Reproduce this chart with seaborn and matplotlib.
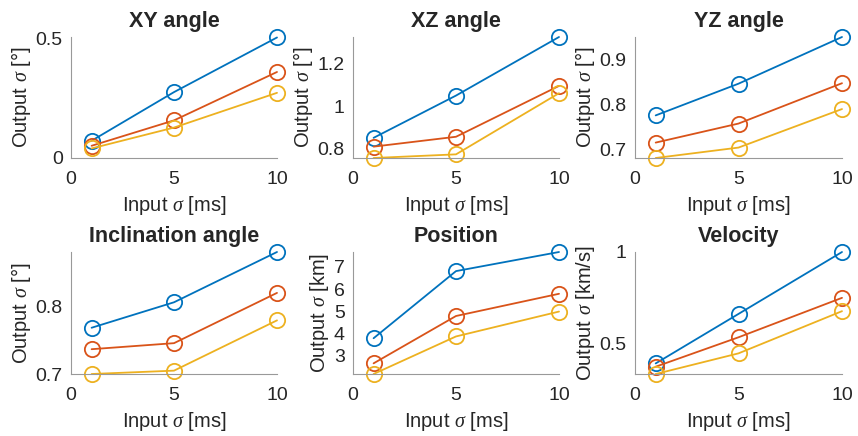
# sensitivity of output sigma to input timing sigma

import pandas as pd
import seaborn as sns
from matplotlib import pyplot as plt
from matplotlib.ticker import FixedLocator, FixedFormatter

input_sigma = [1, 5, 10]
series_names = ['a', 'b', 'c']

xy_angle = [[0.072, 0.275, 0.503], [0.051, 0.157, 0.359], [0.040, 0.127, 0.272]]
xz_angle = [[0.852, 1.049, 1.322], [0.811, 0.857, 1.094], [0.758, 0.775, 1.060]]
yz_angle = [[0.776, 0.846, 0.949], [0.716, 0.758, 0.847], [0.682, 0.705, 0.790]]
incl_angle = [[0.769, 0.807, 0.882], [0.737, 0.746, 0.821], [0.700, 0.705, 0.780]]
position = [[3.79, 6.81, 7.67], [2.66, 4.79, 5.79], [2.18, 3.87, 4.99]]
velocity = [[0.390, 0.661, 1.000], [0.372, 0.533, 0.749], [0.332, 0.445, 0.676]]

titles = ['XY angle', 'XZ angle', 'YZ angle', 'Inclination angle', 'Position', 'Velocity']
units = ['°', '°', '°', '°', 'km', 'km/s']
y_ticks = [[0, 0.5], [0.8, 1, 1.2], [0.7, 0.8, 0.9], [0.7, 0.8], [3, 4, 5, 6, 7], [0.5, 1]]
y_tick_labels = [['0', '0.5'], ['0.8', '1', '1.2'], ['0.7', '0.8', '0.9'], ['0.7', '0.8'],
                 ['3', '4', '5', '6', '7'], ['0.5', '1']]
y_limits = [(0, 0.505), (0.758, 1.322), (0.682, 0.949), (0.700, 0.882), (2.18, 7.67), (0.332, 1.0)]

colors = ['#0072BD', '#D95319', '#EDB120']

sns.set_style('white')
plt.rcParams['font.family'] = ['Liberation Sans', 'DejaVu Sans']
plt.rcParams['mathtext.fontset'] = 'custom'
plt.rcParams['mathtext.it'] = 'Liberation Serif:italic'
plt.rcParams['mathtext.rm'] = 'Liberation Sans'

fig = plt.figure(figsize=(8.58, 4.36), dpi=100)

# axes boxes in pixels: left, top, right, bottom
W, H = 858, 436
cols = [(71, 277), (353, 559), (635, 842)]
rows = [(37, 158), (252, 374)]

all_data = [xy_angle, xz_angle, yz_angle, incl_angle, position, velocity]

for i, data in enumerate(all_data):
    r, c = divmod(i, 3)
    l, rt = cols[c]
    t, b = rows[r]
    ax = fig.add_axes([l / W, 1 - b / H, (rt - l) / W, (b - t) / H])

    df = pd.DataFrame({
        'x': input_sigma * 3,
        'y': [v for s in data for v in s],
        'series': [n for n in series_names for _ in input_sigma],
    })
    sns.lineplot(data=df, x='x', y='y', hue='series', palette=colors, marker='o',
                 markersize=11, markerfacecolor='none', markeredgewidth=1.3,
                 linewidth=1.3, legend=False, ax=ax, clip_on=False)
    for ln in ax.lines:
        ln.set_markeredgecolor(ln.get_color())

    ax.set_xlim(0, 10)
    ax.set_ylim(*y_limits[i])
    ax.set_xticks([0, 5, 10])
    ax.set_xticklabels(['0', '5', '10'])
    ax.yaxis.set_major_locator(FixedLocator(y_ticks[i]))
    ax.yaxis.set_major_formatter(FixedFormatter(y_tick_labels[i]))
    ax.tick_params(labelsize=14, colors='#262626', direction='in', length=3,
                   width=0.7)
    ax.tick_params(axis='x', pad=9)
    ax.tick_params(axis='y', pad=6)
    for side in ['top', 'right']:
        ax.spines[side].set_visible(False)
    for side in ['left', 'bottom']:
        ax.spines[side].set_color('#999999')
        ax.spines[side].set_linewidth(0.8)

    ax.set_xlabel('Input $\\sigma$ [ms]', fontsize=14.5, color='#262626', labelpad=5)
    ax.set_ylabel('Output $\\sigma$ [%s]' % units[i], fontsize=14.5, color='#262626', labelpad=2)
    ax.set_title(titles[i], fontsize=15.5, fontweight='bold', pad=7)

plt.savefig('out.png', dpi=100)
